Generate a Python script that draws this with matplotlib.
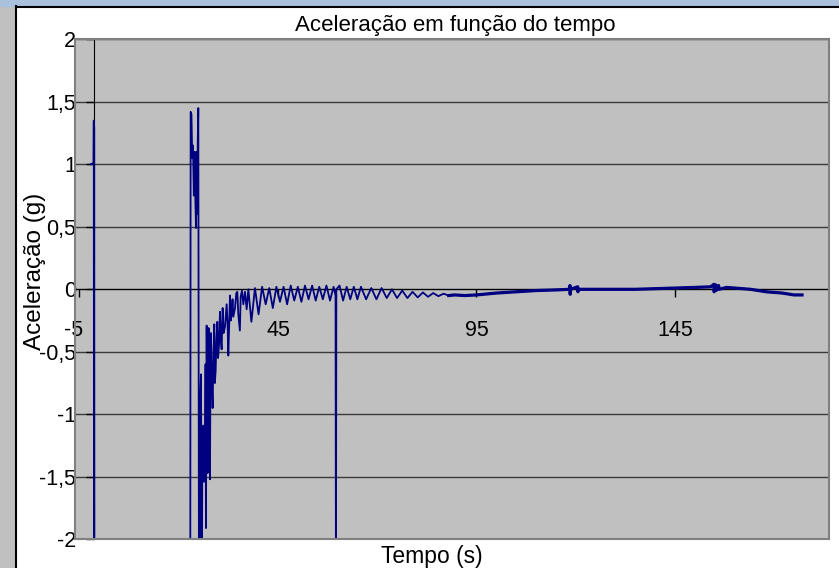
import matplotlib.pyplot as plt
from matplotlib.patches import Rectangle
from matplotlib.lines import Line2D
from matplotlib import transforms

plt.rcParams['font.family'] = ['Liberation Sans', 'DejaVu Sans']

# Dados (tempo em s, aceleração em g)
# trecho inicial e impacto
tempo_inicio = [
    -2.2, -1.45, -1.4, -1.35, -1.3, -1.25, -1.2, 10.0, 22.9,
    23.0, 23.2, 23.4, 23.6, 23.8, 24.0, 24.2, 24.35, 24.5, 24.6, 24.8, 24.93,
    25.0, 25.1, 25.2, 25.35, 25.45, 25.6, 25.75, 25.86, 25.95, 26.05, 26.19,
    26.36, 26.5, 26.61, 26.75, 26.86, 27.03, 27.15, 27.28, 27.4, 27.54, 27.7,
    27.87, 28.0, 28.12, 28.3, 28.54, 28.75, 28.96, 29.1, 29.3, 29.5, 29.72,
    29.9, 30.14, 30.39, 30.6, 30.81, 31.06, 31.3, 31.65, 32.07, 32.3, 32.49,
    32.91, 33.1, 33.33, 33.55, 33.75, 34.17, 34.5, 34.76, 35.0, 35.4, 35.6,
    35.93, 36.27, 36.69, 37.11, 37.53,
]
acel_inicio = [
    1.00, 1.01, 1.35, -2.6, 1.30, -2.6, -2.6, -2.6, -2.6,
    1.42, 1.40, 1.05, 1.15, 0.75, 1.10, 0.70, 0.49, 1.10, 0.60, 1.20, 1.45,
    -0.18, -2.6, -1.40, -2.3, -0.85, -0.68, -1.80, -2.2, -1.10, -1.30, -1.09,
    -1.54, -1.20, -1.38, -0.60, -1.91, -0.29, -1.00, -1.47, -0.70, -0.31, -0.80,
    -1.52, -0.60, -0.35, -0.70, -0.95, -0.50, -0.28, -0.75, -0.65, -0.40, -0.26,
    -0.55, -0.45, -0.18, -0.40, -0.48, -0.15, -0.35, -0.30, -0.12, -0.28, -0.53,
    -0.05, -0.25, -0.20, -0.08, -0.22, -0.15, -0.03, -0.02, -0.20, -0.33, -0.06,
    -0.01, -0.12, -0.02, -0.16, 0.00,
]
# oscilação amortecida
tempo_osc = [
    38.3, 39.2, 40.1, 41.0, 41.9, 42.8, 43.7, 44.6, 45.5, 46.4,
    47.3, 48.2, 49.1, 50.0, 50.9, 51.8, 52.7, 53.6, 54.5, 55.4,
    56.3, 57.2, 58.1, 59.0, 59.5, 59.6, 59.7, 60.5, 61.4, 62.3,
    63.2, 64.1, 65.0, 65.9, 67.2, 68.5, 69.8, 71.1, 72.4, 73.7,
    75.0, 76.3, 77.6, 78.9, 80.2, 81.5, 82.8, 84.1, 85.4, 86.7,
    88.0,
]
acel_osc = [
    -0.26, 0.01, -0.20, 0.02, -0.12, 0.01, -0.15, 0.02, -0.10, 0.02,
    -0.12, 0.03, -0.09, 0.02, -0.10, 0.03, -0.08, 0.03, -0.09, 0.02,
    -0.08, 0.03, -0.09, 0.02, -0.05, -2.5, 0.00, 0.03, -0.09, 0.02,
    -0.08, 0.02, -0.08, 0.02, -0.08, 0.01, -0.08, 0.01, -0.07, 0.00,
    -0.07, -0.01, -0.07, -0.02, -0.065, -0.025, -0.06, -0.03, -0.055, -0.035,
    -0.05,
]
# cauda quase constante
tempo_cauda = [
    89.5, 92.0, 95.0, 100.0, 105.0, 110.0, 115.0, 118.5, 118.55, 118.6,
    118.7, 120.5, 120.55, 120.6, 125.0, 130.0, 135.0, 140.0, 145.0, 150.0,
    154.0, 154.8, 154.85, 155.3, 155.35, 156.0, 156.05, 158.0, 160.0, 164.0,
    168.0, 172.0, 175.0, 177.0,
]
acel_cauda = [
    -0.045, -0.05, -0.045, -0.03, -0.02, -0.01, -0.005, 0.00, 0.03, -0.04,
    0.00, 0.02, -0.02, 0.00, 0.00, 0.00, 0.00, 0.005, 0.01, 0.015,
    0.02, 0.04, -0.02, 0.035, -0.01, 0.03, 0.00, 0.015, 0.01, 0.00,
    -0.02, -0.03, -0.045, -0.045,
]

y_ticks = [-2, -1.5, -1, -0.5, 0, 0.5, 1, 1.5, 2]
y_labels = ['-2', '-1,5', '-1', '-0,5', '0', '0,5', '1', '1,5', '2']
x_ticks = [-5, 45, 95, 145]
x_labels = ['-5', '45', '95', '145']

tempo = tempo_inicio + tempo_osc + tempo_cauda
aceleracao = acel_inicio + acel_osc + acel_cauda

W, H = 839, 568
fig = plt.figure(figsize=(W / 100, H / 100), dpi=100)

# moldura da janela (faixa cinza à esquerda, barra no topo)
fig.patches.append(Rectangle((0, 0), 15 / W, 1, transform=fig.transFigure,
                             color='#c0c0c0', zorder=0))
fig.patches.append(Rectangle((0, 1 - 6 / H), 1, 6 / H, transform=fig.transFigure,
                             color='#a9c1dc', zorder=0))
fig.lines.append(Line2D([16 / W, 16 / W], [0, 1 - 6 / H], transform=fig.transFigure,
                        color='black', lw=1.5))
fig.lines.append(Line2D([16 / W, 1], [1 - 6.5 / H, 1 - 6.5 / H],
                        transform=fig.transFigure, color='black', lw=1.5))

ax = fig.add_axes([75 / W, 28.7 / H, 754.3 / W, 500 / H])
ax.set_facecolor('#c0c0c0')
ax.set_xlim(-6.13, 183.87)
ax.set_ylim(-2, 2)

ax.plot(tempo, aceleracao, color='#000080', lw=1.3, zorder=3)
ax.plot([tempo_osc[-1]] + tempo_cauda, [acel_osc[-1]] + acel_cauda,
        color='#000080', lw=2.3, zorder=3)

ax.yaxis.grid(True, color='#3a3a3a', lw=1.0)
ax.xaxis.grid(False)
ax.set_axisbelow(True)

ax.spines['top'].set_visible(False)
ax.spines['right'].set_visible(False)
ax.spines['left'].set_position(('data', -1.3))
ax.spines['bottom'].set_position(('data', 0))
ax.add_patch(Rectangle((0, 0), 1, 1, transform=ax.transAxes, fill=False,
                       edgecolor='#808080', lw=1.5, zorder=4, clip_on=False))

ax.set_yticks(y_ticks)
ax.set_yticklabels(y_labels)
ax.set_xticks(x_ticks)
ax.set_xticklabels(x_labels)
ax.tick_params(axis='y', direction='out', length=6, width=1, pad=7, labelsize=15.5)
ax.tick_params(axis='x', direction='out', length=6, width=1, pad=16, labelsize=15.5)

# o rótulo "-5" aparece um pouco deslocado para a esquerda
desloc = transforms.ScaledTranslation(-5.5 / 100, 0, fig.dpi_scale_trans)
lbl = ax.get_xticklabels()[0]
lbl.set_transform(lbl.get_transform() + desloc)

fig.text(455 / W, 1 - 25 / H, 'Aceleração em função do tempo', ha='center',
         va='center', fontsize=16)
fig.text(432 / W, 1 - 563 / H, 'Tempo (s)', ha='center', va='baseline',
         fontsize=16.5)
fig.text(35 / W, 1 - 271 / H, 'Aceleração (g)', ha='center', va='center',
         rotation=90, fontsize=17.5)

fig.savefig('out.png', dpi=100)
